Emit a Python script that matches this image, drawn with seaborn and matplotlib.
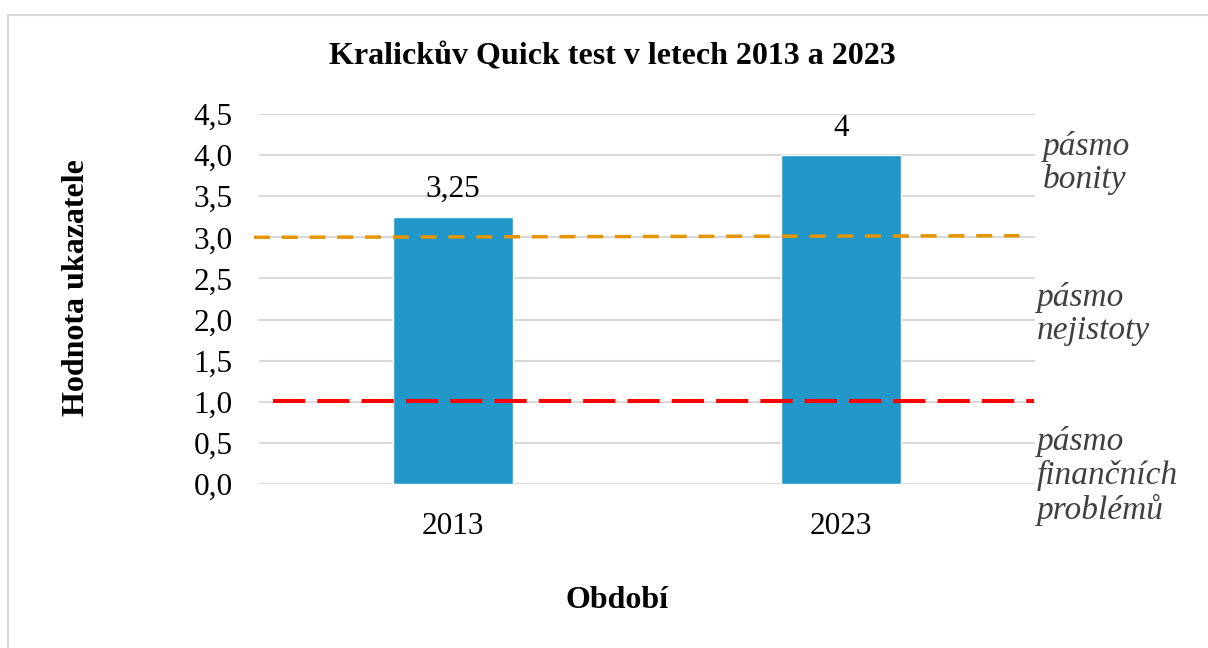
# Kralickuv Quick test - bar chart with threshold lines

import matplotlib
matplotlib.use("Agg")
import matplotlib.pyplot as plt
from matplotlib.patches import Rectangle
from matplotlib.ticker import FuncFormatter
import seaborn as sns
import pandas as pd

# ── data ─────────────────────────────────────────────────────────────────────
years = ["2013", "2023"]
scores = [3.25, 4.0]

# threshold lines (x in category units, y values)
upper_x = [-0.513, 1.46]
upper_y = [3.0, 3.02]
lower_x = [-0.464, 1.498]
lower_y = [1.01, 1.01]

zone_labels = ["pásmo\nbonity", "pásmo\nnejistoty", "pásmo\nfinančních\nproblémů"]

df = pd.DataFrame({"year": years, "score": scores})

# ── style ────────────────────────────────────────────────────────────────────
sns.set_style("white", rc={"text.color": "black", "axes.labelcolor": "black",
                           "xtick.color": "black", "ytick.color": "black"})
plt.rcParams["font.family"] = ["Liberation Serif", "DejaVu Serif"]

BLUE = "#2197CA"
ORANGE = "#E69400"
RED = "#FF0000"
GRID = "#D9D9D9"

fig = plt.figure(figsize=(12.08, 6.48), dpi=100)
ax = fig.add_axes([259 / 1208, 1 - 484 / 648, 776 / 1208, 370 / 648])

# light frame around the chart area
fig.patches.append(Rectangle((8 / 1208, -0.1), 1.2, 1 - 15 / 648 + 0.1,
                             transform=fig.transFigure, fill=False,
                             edgecolor=GRID, linewidth=1.5))

sns.barplot(data=df, x="year", y="score", color=BLUE, width=0.31,
            saturation=1, ax=ax, zorder=2)

ax.plot(upper_x, upper_y, color=ORANGE, lw=2.5, dashes=(4.6, 3.4),
        clip_on=False, zorder=3)
ax.plot(lower_x, lower_y, color=RED, lw=2.9, dashes=(8, 3),
        clip_on=False, zorder=3)

ax.set_xlim(-0.5, 1.5)
ax.set_ylim(0, 4.5)
ax.set_yticks([i * 0.5 for i in range(10)])
ax.yaxis.set_major_formatter(FuncFormatter(lambda v, _: f"{v:.1f}".replace(".", ",")))
ax.grid(axis="y", color=GRID, linewidth=1.5, zorder=0)
ax.set_axisbelow(True)
for s in ax.spines.values():
    s.set_visible(False)
ax.tick_params(axis="both", length=0, labelsize=22.5)
ax.tick_params(axis="y", pad=19)
ax.tick_params(axis="x", pad=20)

ax.bar_label(ax.containers[0],
             labels=[f"{v:g}".replace(".", ",") for v in scores],
             fontsize=22.5, padding=9)

ax.set_xlabel("")
ax.set_ylabel("")
fig.text(617 / 1208, 1 - 600 / 648, "Období", ha="center", va="center",
         fontsize=23, fontweight="bold")
fig.text(77 / 1208, 1 - 288 / 648, "Hodnota ukazatele", ha="center",
         va="center", rotation=90, fontsize=23, fontweight="bold")
fig.text(612 / 1208, 1 - 57 / 648, "Kralickův Quick test v letech 2013 a 2023",
         ha="center", va="center", fontsize=23, fontweight="bold")

# zone descriptions on the right
zone_pos = [(1043, 163), (1037, 314), (1037, 476)]
for (px, py), txt in zip(zone_pos, zone_labels):
    fig.text(px / 1208, 1 - py / 648, txt, ha="left", va="center",
             fontsize=24, style="italic", color="#404040", linespacing=1.12)

fig.savefig("out.png", dpi=100)
